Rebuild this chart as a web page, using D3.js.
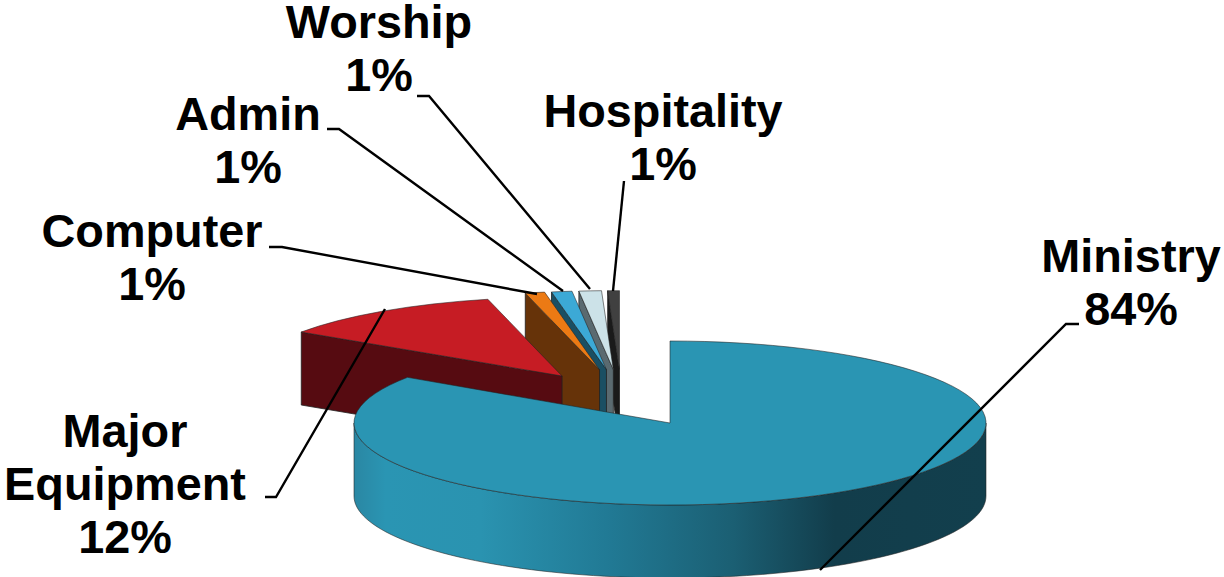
<!DOCTYPE html>
<meta charset="utf-8">
<script src="https://d3js.org/d3.v7.min.js"></script>
<style>
    body { margin: 0; background: #fff; }
    svg { display: block; }
    text { font-family: "Liberation Sans", Arial, sans-serif; font-weight: bold; font-size: 46.8px; fill: #000; }
</style>
<div id="my_dataviz"></div>
<script>

    // values (labels round them)
    const categories = ["Ministry", "Major\nEquipment", "Computer", "Admin", "Worship", "Hospitality"];
    const values = [84.4, 11.8, 1.0, 1.05, 1.15, 0.6];
    const topColors = ["#2A95B3", "#C61C24", "#EC7A14", "#3CA9D6", "#CCE2E8", "#404040"];
    const sideColors = ["#2A95B3", "#560B11", "#663309", "#1A4F63", "#5A6A70", "#1A1A1A"];

    const width = 1224, height = 577;

    // pie geometry: ellipse of the big slice, wall depth, exploded slices (a bit smaller, further back)
    const cx = 670, cy = 423, rx = 316, ry = 82, depth = 73, rxPulled = 314, ryPulled = 79;
    const pullAngle = [0, -30.8, -19, -17.2, -15.4, -13.8];
    const pullDist = [0, 0.667, 0.685, 0.68, 0.675, 0.67];

    // label anchor (centre x, first baseline) and leader line per slice
    const labelPos = [[1131, 272], [125, 447], [152, 247], [248, 130], [379, 38], [663, 127]];
    const leaders = [
        [[1079, 324], [1066, 324], [820, 570]],
        [[265, 497], [276, 497], [385, 309]],
        [[269, 247], [282, 247], [537, 294]],
        [[327, 129], [339, 129], [563, 291]],
        [[417, 96], [429, 96], [590, 289]],
        [[624, 181], [613, 291]]
    ];

    const svg = d3.select("#my_dataviz")
        .append("svg")
        .attr("width", width)
        .attr("height", height);

    // side wall shading of the big slice, in the slice's own coordinates
    const grad = svg.append("defs").append("linearGradient")
        .attr("id", "wall")
        .attr("gradientUnits", "userSpaceOnUse")
        .attr("x1", -rx).attr("x2", rx)
        .attr("y1", 0).attr("y2", 0);
    [[0, "#2A87A3"], [0.05, "#2A95B3"], [0.2, "#2A93B0"], [0.4, "#217A95"], [0.6, "#1B5F73"], [0.76, "#123D4B"], [1, "#123F4D"]]
        .forEach(s => grad.append("stop").attr("offset", s[0]).attr("stop-color", s[1]));

    const pie = d3.pie().sort(null).value(d => d);
    const slices = pie(values).map((d, i) => {
        const a = pullAngle[i] * Math.PI / 180;
        return {
            ...d,
            i: i,
            x: cx + rx * pullDist[i] * Math.sin(a),
            y: cy - ry * pullDist[i] * Math.cos(a),
            rx: i === 0 ? rx : rxPulled,
            ry: i === 0 ? ry : ryPulled
        };
    });

    const arc = d3.arc().innerRadius(0).outerRadius(d => d.rx);
    const line = d3.line();
    const strokeColor = "#222";

    // back to front: the slices nearest the 12 o'clock go first
    const order = slices.slice().reverse();

    order.forEach(function (s) {
        const g = svg.append("g").attr("transform", `translate(${s.x},${s.y})`);

        if (s.i === 0) {
            // outer wall, right edge round the front to the left edge
            const rim = d3.range(90, 271, 2).map(t => {
                const a = t * Math.PI / 180;
                return [s.rx * Math.sin(a), -s.ry * Math.cos(a)];
            });
            const wall = rim.concat(rim.slice().reverse().map(p => [p[0], p[1] + depth]));
            g.append("path")
                .attr("d", line(wall) + "Z")
                .attr("fill", "url(#wall)")
                .attr("stroke", strokeColor)
                .attr("stroke-opacity", 0.7)
                .attr("stroke-width", 0.8);
        } else {
            // radial face under the left cut
            const px = s.rx * Math.sin(s.startAngle), py = -s.ry * Math.cos(s.startAngle);
            g.append("path")
                .attr("d", line([[0, 0], [px, py], [px, py + depth], [0, depth]]) + "Z")
                .attr("fill", sideColors[s.i])
                .attr("stroke", strokeColor)
                .attr("stroke-width", 0.8);
        }

        g.append("path")
            .attr("d", arc(s))
            .attr("transform", `scale(1,${s.ry / s.rx})`)
            .attr("fill", topColors[s.i])
            .attr("stroke", strokeColor)
            .attr("stroke-opacity", 0.7)
            .attr("stroke-width", 0.8)
            .attr("vector-effect", "non-scaling-stroke");
    });

    // leader lines sit over the pie
    svg.append("g").selectAll("path")
        .data(leaders)
        .join("path")
        .attr("d", d => line(d))
        .attr("fill", "none")
        .attr("stroke", "#000")
        .attr("stroke-width", 2.4);

    // labels: name lines then the rounded percent
    const total = d3.sum(values);
    const lineGap = 53;
    const labels = svg.append("g").selectAll("text")
        .data(categories)
        .join("text")
        .attr("text-anchor", "middle")
        .attr("transform", (d, i) => `translate(${labelPos[i][0]},${labelPos[i][1]})`);
    labels.each(function (d, i) {
        const rows = d.split("\n").concat(d3.format(".0%")(values[i] / total));
        d3.select(this).selectAll("tspan")
            .data(rows)
            .join("tspan")
            .attr("x", 0)
            .attr("y", (r, j) => j * lineGap)
            .text(r => r);
    });
</script>
